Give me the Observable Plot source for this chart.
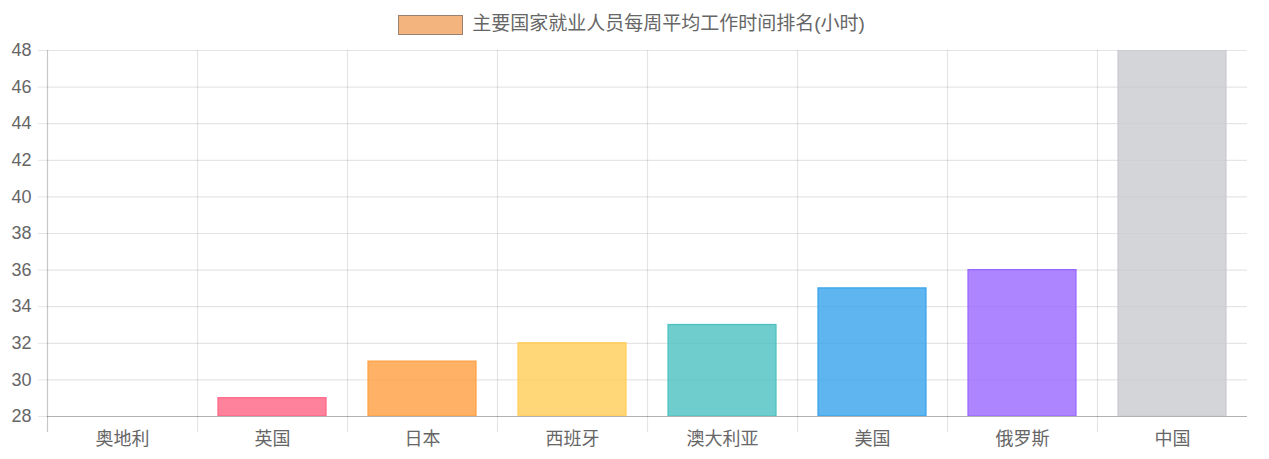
<!DOCTYPE html>
<html>
<head>
<meta charset="utf-8">
<script src="https://cdn.jsdelivr.net/npm/d3@7"></script>
<script src="https://cdn.jsdelivr.net/npm/@observablehq/plot@0.6"></script>
<style>
  html, body { margin: 0; padding: 0; background: #fff; }
  body { width: 1269px; height: 459px; overflow: hidden; font-family: "Liberation Sans", Arial, "Noto Sans CJK SC", sans-serif; }
  #legend { height: 40px; display: flex; align-items: flex-start; justify-content: center; padding-right: 6px; box-sizing: border-box; }
  #legend .box { width: 63px; height: 18px; margin-top: 15px; background: #F4B47E; border: 1.5px solid #9A8070; }
  #legend .txt { margin-left: 9px; margin-top: 13px; font-size: 19px; color: #666; line-height: 22px; }
  svg { display: block; }
</style>
</head>
<body>
<div id="legend"><div class="box"></div><div class="txt"></div></div>
<div id="chart"></div>
<script>
const title = "主要国家就业人员每周平均工作时间排名(小时)";
const categories = ["奥地利", "英国", "日本", "西班牙", "澳大利亚", "美国", "俄罗斯", "中国"];
const hours = [27, 29, 31, 32, 33, 35, 36, 48];
const barColors = ["#F4B47E", "rgb(255,99,132)", "rgb(255,159,64)", "rgb(255,205,86)", "rgb(75,192,192)", "rgb(54,162,235)", "rgb(153,102,255)", "rgb(201,203,207)"];
const yTicks = [28, 30, 32, 34, 36, 38, 40, 42, 44, 46, 48];

document.querySelector("#legend .txt").textContent = title;

const data = categories.map((c, i) => ({country: c, hours: hours[i], color: barColors[i]}));

const W = 1269, H = 419;
const mL = 47, mR = 22;
const step = (W - mL - mR) / categories.length;
const yMin = yTicks[0];

const chart = Plot.plot({
  width: W,
  height: H,
  marginTop: 10,
  marginBottom: 43,
  marginLeft: mL,
  marginRight: mR,
  style: {fontFamily: '"Liberation Sans", Arial, "Noto Sans CJK SC", sans-serif', fontSize: "18px", color: "#666", background: "#fff"},
  x: {domain: categories, paddingInner: 0.28, paddingOuter: 0.14, label: null},
  y: {domain: [yTicks[0], yTicks[yTicks.length - 1]], label: null},
  color: {type: "identity"},
  marks: [
    Plot.gridY({ticks: yTicks, stroke: "#000", strokeOpacity: 0.1, strokeWidth: 1.2}),
    Plot.ruleX(categories.slice(1), {x: d => d, dx: -step / 2, stroke: "#000", strokeOpacity: 0.1, strokeWidth: 1.2, insetBottom: -16}),
    Plot.barY(data, {filter: d => d.hours > yMin, x: "country", y1: () => yMin, y2: "hours", fill: "color", fillOpacity: 0.8, stroke: "color", strokeWidth: 1.2, clip: true}),
    Plot.ruleX([categories[0]], {dx: -step / 2, stroke: "#000", strokeOpacity: 0.22, strokeWidth: 1.2, insetBottom: -16}),
    Plot.ruleY([yMin], {stroke: "#000", strokeOpacity: 0.22, strokeWidth: 1.2}),
    Plot.axisY({ticks: yTicks, tickSize: 9, tickPadding: 7, stroke: "#000", strokeOpacity: 0.1, fill: "#666", fontSize: 18}),
    Plot.axisX({tickSize: 0, tickPadding: 16, fill: "#666", fontSize: 18})
  ]
});
document.getElementById("chart").appendChild(chart);
</script>
</body>
</html>
